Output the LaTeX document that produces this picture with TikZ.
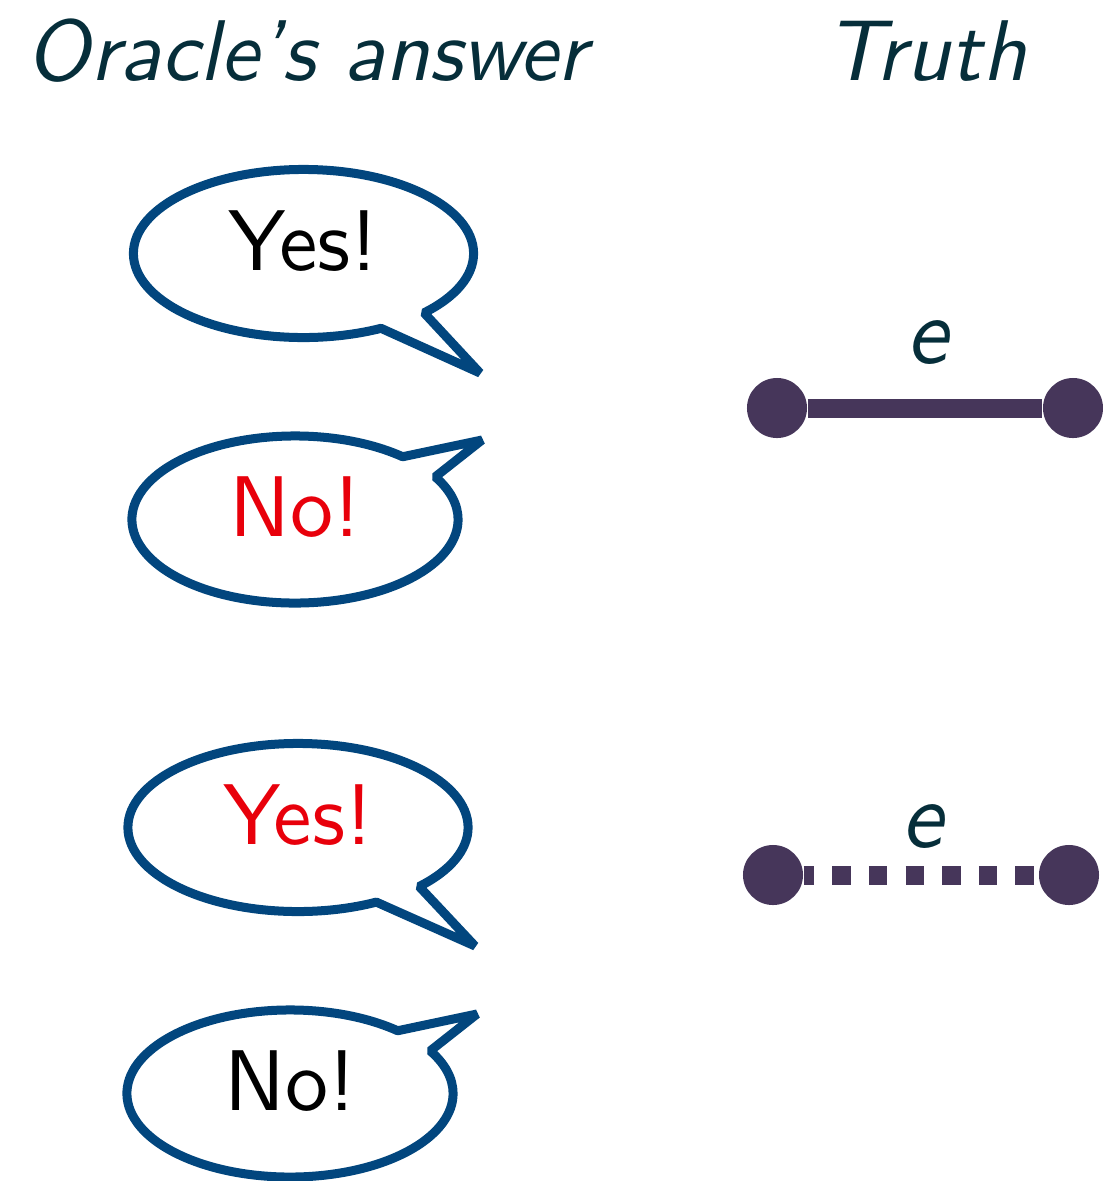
\documentclass[tikz,border=0pt]{standalone}
\usepackage{xcolor}
\usepackage{graphicx}
\usepackage{tikz}
\usetikzlibrary{shapes.callouts}

\definecolor{titlecol}{RGB}{6,46,58}
\definecolor{bubblecol}{RGB}{2,70,126}
\definecolor{edgecol}{RGB}{70,54,90}
\definecolor{wrongcol}{RGB}{232,0,11}

\newcommand{\saytext}[1]{\scalebox{2.45}{\sffamily #1}}

\begin{document}
\begin{tikzpicture}[x=0.01cm,y=-0.01cm,
  heading/.style={anchor=base,inner sep=0pt,text=titlecol,scale=2.45,font=\sffamily\slshape},
  bubble/.style={ellipse callout,draw=bubblecol,line width=0.09cm,line join=bevel,
    callout pointer arc=18,inner sep=0pt,text depth=0.25cm},
  yesbubble/.style={bubble,minimum width=3.4cm,minimum height=1.68cm},
  nobubble/.style={bubble,minimum width=3.26cm,minimum height=1.67cm},
  vertex/.style={shape=circle,fill=edgecol,minimum size=0.6cm,inner sep=0pt},
  edgelabel/.style={inner sep=0pt,text=titlecol,scale=2.65,font=\sffamily\slshape},
  edgeline/.style={draw=edgecol,line width=0.19cm}]
\useasboundingbox (0,0) rectangle (1103,1181);

% headings
\path (307,80) node (oracle) [heading] {Oracle’s answer};
\path (926,80) node (truth) [heading] {Truth};

% edge present
\path (303.5,253.5) node (yesA) [yesbubble,callout absolute pointer={(480,373)}] {\saytext{Yes!}};
\path (295,519.5) node (noA) [nobubble,callout absolute pointer={(482,440)},text=wrongcol] {\saytext{No!}};
\path (777,408) node (uA) [vertex] {};
\path (1073,408) node (vA) [vertex] {};
\path (927,343) node (eA) [edgelabel] {e};
\draw [edgeline] (uA) -- (vA);

% edge absent
\path (298,827.5) node (yesB) [yesbubble,callout absolute pointer={(475,946)},text=wrongcol] {\saytext{Yes!}};
\path (290,1093.5) node (noB) [nobubble,callout absolute pointer={(477,1014)}] {\saytext{No!}};
\path (773,875) node (uB) [vertex] {};
\path (1069,875) node (vB) [vertex] {};
\path (922,827) node (eB) [edgelabel] {e};
\draw [edgeline,dash pattern=on 0.183cm off 0.183cm,dash phase=0.08cm] (uB) -- (vB);
\end{tikzpicture}
\end{document}
